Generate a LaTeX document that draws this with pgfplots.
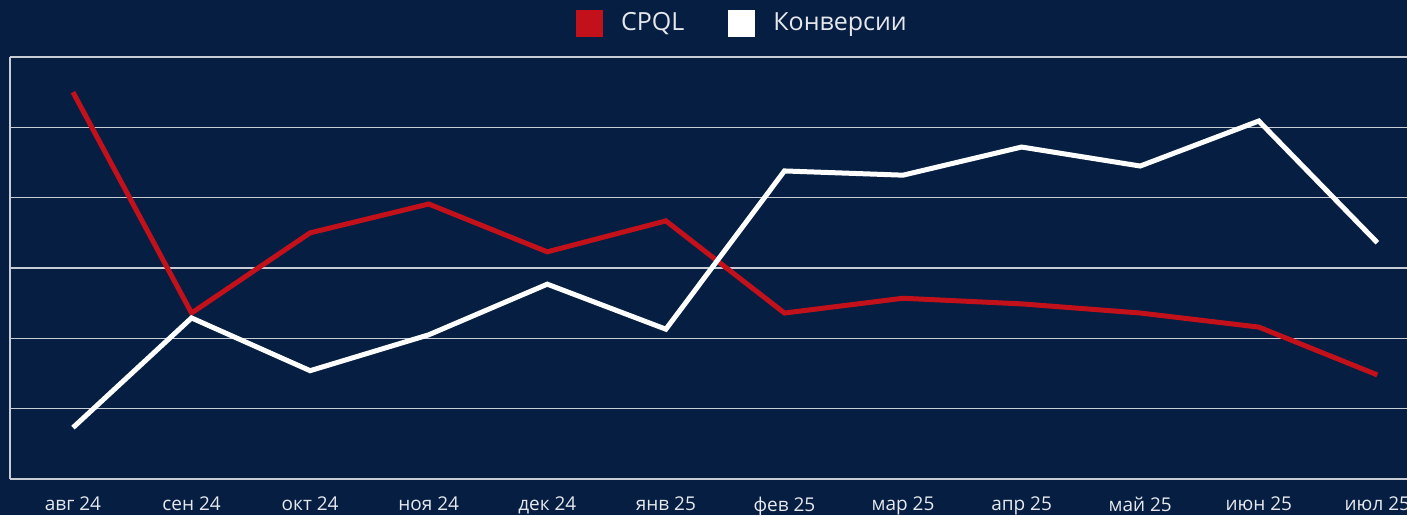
\documentclass[border=0pt]{standalone}
\usepackage{pgfplots}
\pgfplotsset{compat=1.18}
\usepackage{fontspec}
\setmainfont{Open Sans}
\definecolor{bg}{HTML}{051E42}
\definecolor{cred}{HTML}{C2111A}
\definecolor{txt}{HTML}{E6E8EE}
\definecolor{grd}{HTML}{C8CCD4}
\begin{document}
\begin{tikzpicture}
\fill[bg] (0,0) rectangle (703.5pt,257.5pt);
\begin{axis}[
  at={(5pt,18pt)}, anchor=south west,
  scale only axis, width=698.5pt, height=211pt,
  xmin=-0.531, xmax=11.25, ymin=0, ymax=6,
  axis y line*=left, axis x line*=box,
  axis line style={-, draw=grd, line width=1pt},
  xtick={0,...,11},
  xticklabels={авг 24, сен 24, окт 24, ноя 24, дек 24, янв 25, фев 25, мар 25, апр 25, май 25, июн 25, июл 25},
  ytick={1,...,5}, yticklabels={},
  ymajorgrids, grid style={draw=grd, line width=0.6pt},
  major tick length=0pt,
  xticklabel style={font=\fontsize{9.5}{11}\selectfont, text=txt, yshift=-5.5pt},
  legend style={at={(0.525,1)}, anchor=center, yshift=17pt, draw=none, fill=none,
    font=\fontsize{12.5}{15}\selectfont, text=txt, legend columns=2,
    /tikz/every odd column/.append style={column sep=7pt},
    /tikz/every even column/.append style={column sep=20pt}},
  legend image code/.code={\fill[#1, draw=none] (0pt,-6.75pt) rectangle (13.5pt,6.75pt);},
]
\addplot[cred, line width=2.5pt] coordinates {
 (0,5.50) (1,2.36) (2,3.50) (3,3.91) (4,3.23) (5,3.67)
 (6,2.36) (7,2.57) (8,2.49) (9,2.36) (10,2.16) (11,1.48)};
\addlegendentry{CPQL}
\addplot[white, line width=2.5pt] coordinates {
 (0,0.73) (1,2.29) (2,1.54) (3,2.05) (4,2.77) (5,2.13)
 (6,4.38) (7,4.32) (8,4.72) (9,4.45) (10,5.09) (11,3.36)};
\addlegendentry{Конверсии}
\end{axis}
\pgfresetboundingbox
\path[use as bounding box] (0,0) rectangle (703.5pt,257.5pt);
\end{tikzpicture}
\end{document}
